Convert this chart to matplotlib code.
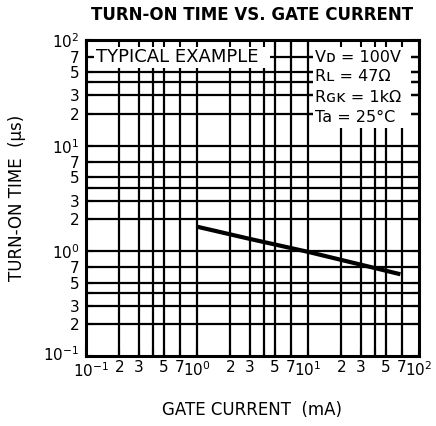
import matplotlib
matplotlib.use("Agg")
import matplotlib.pyplot as plt
from matplotlib.patches import Rectangle
from matplotlib.transforms import ScaledTranslation

# ---- data ----
gate_current_mA = [1.0, 3.0, 10.0, 68.0]
turn_on_time_us = [1.7, 1.3, 0.98, 0.60]

x_ticks = [0.1, 0.2, 0.3, 0.4, 0.5, 0.7, 1, 2, 3, 4, 5, 7, 10, 20, 30, 40, 50, 70, 100]
x_tick_labels = ["$10^{-1}$", "2", "3", "", "5", "7", "$10^{0}$", "2", "3", "", "5", "7",
                 "$10^{1}$", "2", "3", "", "5", "7", "$10^{2}$"]
y_ticks = x_ticks
y_tick_labels = x_tick_labels

title = "TURN-ON TIME VS. GATE CURRENT"
x_label = "GATE CURRENT  (mA)"
y_label = "TURN-ON TIME  (μs)"
note_left = "TYPICAL EXAMPLE"
conditions = ["Vᴅ = 100V", "Rʟ = 47Ω", "Rɢᴋ = 1kΩ", "Ta = 25°C"]

plt.rcParams['font.family'] = ['DejaVu Sans']
plt.rcParams['mathtext.fontset'] = 'dejavusans'

fig = plt.figure(figsize=(4.36, 4.26), dpi=100)
ax = fig.add_axes([0.197, 0.164, 0.764, 0.741])
ax.set_xscale('log')
ax.set_yscale('log')
ax.set_xlim(0.1, 100)
ax.set_ylim(0.1, 100)

# grid lines
for xv in x_ticks[1:-1]:
    ax.axvline(xv, color='black', lw=1.6, zorder=1)
for yv in y_ticks[1:-1]:
    ax.axhline(yv, color='black', lw=1.6, zorder=1)

# white annotation areas
ax.add_patch(Rectangle((0.118, 54.8), 4.55 - 0.118, 100 - 54.8,
                       facecolor='white', edgecolor='none', zorder=1.5))
ax.add_patch(Rectangle((11.1, 14.8), 84.7 - 11.1, 100 - 14.8,
                       facecolor='white', edgecolor='none', zorder=1.5))
# horizontal line stubs visible at the edges of the condition box
for yv in [20, 30, 40, 50, 70]:
    ax.plot([10, 11.1], [yv, yv], color='black', lw=1.6, zorder=1.6,
            solid_capstyle='butt')
    ax.plot([84.7, 100], [yv, yv], color='black', lw=1.6, zorder=1.6,
            solid_capstyle='butt')

ax.text(0.123, 70, note_left, fontsize=13, va='center', ha='left', zorder=2.6)
cond_y = [69.6, 45, 29, 18.4]
for t, yv in zip(conditions, cond_y):
    ax.text(11.6, yv, t, fontsize=11.5, va='center', ha='left', zorder=2.6,
            bbox=dict(facecolor='white', edgecolor='none', pad=1.0))

# data line
ax.plot(gate_current_mA, turn_on_time_us, color='black', lw=3, zorder=3,
        solid_capstyle='butt')

# ticks
ax.set_axisbelow(False)
ax.minorticks_off()
ax.set_xticks(x_ticks)
ax.set_xticklabels(x_tick_labels)
ax.set_yticks(y_ticks)
ax.set_yticklabels(y_tick_labels)
ax.tick_params(which='both', direction='in', length=5, width=1.5,
               top=True, right=True, labelsize=11, color='black')
ax.tick_params(axis='x', pad=3)
ax.tick_params(axis='y', pad=4.5)
for s in ax.spines.values():
    s.set_linewidth(2.2)
    s.set_zorder(4)

# nudge the two corner labels apart
xl0 = ax.get_xticklabels()[0]
xl0.set_transform(xl0.get_transform() + ScaledTranslation(5 / 100, -1 / 100, fig.dpi_scale_trans))
yl0 = ax.get_yticklabels()[0]
yl0.set_transform(yl0.get_transform() + ScaledTranslation(0, 3 / 100, fig.dpi_scale_trans))

ax.set_xlabel(x_label, fontsize=12, va='center')
ax.xaxis.set_label_coords(0.5, -0.171)
ax.set_ylabel(y_label, fontsize=12, va='center')
ax.yaxis.set_label_coords(-0.207, 0.5)

fig.text(0.579, 0.965, title, fontsize=12, fontweight='bold', ha='center', va='center')

fig.savefig("out.png", dpi=100)
